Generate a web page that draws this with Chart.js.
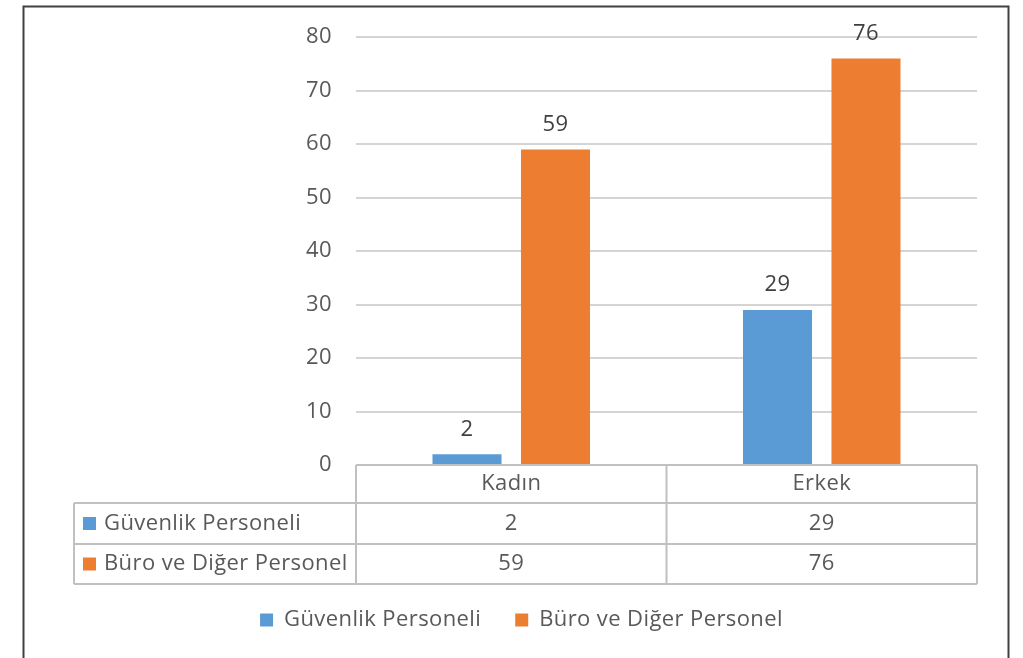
<!DOCTYPE html>
<html>
<head>
<meta charset="utf-8">
<script src="https://cdn.jsdelivr.net/npm/chart.js@4.4.0/dist/chart.umd.min.js"></script>
<style>
  html, body { margin: 0; padding: 0; background: #ffffff; }
  #wrap { width: 1023px; height: 658px; position: relative; }
</style>
</head>
<body>
<div id="wrap"><canvas id="c" width="1023" height="658"></canvas></div>
<script>
const categories = ['Kadın', 'Erkek'];
const seriesNames = ['Güvenlik Personeli', 'Büro ve Diğer Personel'];
const guvenlik = [2, 29];
const buro = [59, 76];
const yTicks = [0, 10, 20, 30, 40, 50, 60, 70, 80];
const seriesColors = ['#5B9BD5', '#ED7D31'];

const FONT = "'Open Sans', 'Noto Sans', sans-serif";
const TEXT = '#595959';

const tablePlugin = {
  id: 'tablePlugin',
  beforeDraw(chart) {
    const ctx = chart.ctx;
    try { ctx.letterSpacing = '0.4px'; } catch (e) {}
    ctx.save();
    ctx.strokeStyle = '#404040';
    ctx.lineWidth = 2;
    ctx.beginPath();
    ctx.moveTo(23.5, 658); ctx.lineTo(23.5, 6.5); ctx.lineTo(1008.5, 6.5); ctx.lineTo(1008.5, 658);
    ctx.stroke();
    ctx.restore();
  },
  afterDatasetsDraw(chart) {
    const ctx = chart.ctx;
    const xs = chart.scales.x;
    const area = chart.chartArea;
    // data labels
    ctx.save();
    ctx.font = '22px ' + FONT;
    ctx.fillStyle = '#404040';
    ctx.textAlign = 'center';
    ctx.textBaseline = 'middle';
    chart.data.datasets.forEach((ds, di) => {
      const meta = chart.getDatasetMeta(di);
      meta.data.forEach((el, i) => {
        ctx.fillText(String(ds.data[i]), el.x, el.y - 25);
      });
    });
    ctx.restore();

    // data table
    const top = area.bottom;
    const rows = [top, top + 38, top + 79, top + 119];
    const tableLeft = 74;
    const colEdges = [area.left];
    for (let i = 0; i < categories.length - 1; i++) {
      colEdges.push((xs.getPixelForValue(i) + xs.getPixelForValue(i + 1)) / 2);
    }
    colEdges.push(area.right);

    ctx.save();
    ctx.strokeStyle = '#c0c0c0';
    ctx.lineWidth = 2;
    ctx.beginPath();
    ctx.moveTo(area.left, rows[0]); ctx.lineTo(area.right, rows[0]);
    for (let r = 1; r < rows.length; r++) {
      ctx.moveTo(tableLeft, rows[r]); ctx.lineTo(area.right, rows[r]);
    }
    ctx.moveTo(tableLeft, rows[1]); ctx.lineTo(tableLeft, rows[3]);
    colEdges.forEach(x => { ctx.moveTo(x, rows[0]); ctx.lineTo(x, rows[3]); });
    ctx.stroke();

    ctx.font = '22px ' + FONT;
    ctx.fillStyle = TEXT;
    ctx.textBaseline = 'middle';
    ctx.textAlign = 'center';
    categories.forEach((c, i) => {
      const cx = xs.getPixelForValue(i);
      ctx.fillText(c, cx, (rows[0] + rows[1]) / 2);
      chart.data.datasets.forEach((ds, di) => {
        ctx.fillText(String(ds.data[i]), cx, (rows[di + 1] + rows[di + 2]) / 2);
      });
    });
    ctx.textAlign = 'left';
    chart.data.datasets.forEach((ds, di) => {
      const cy = (rows[di + 1] + rows[di + 2]) / 2;
      ctx.fillStyle = ds.backgroundColor;
      ctx.fillRect(83, cy - 6.5, 13, 13);
      ctx.fillStyle = TEXT;
      ctx.fillText(ds.label, 104, cy);
    });
    ctx.restore();
  }
};

new Chart(document.getElementById('c'), {
  type: 'bar',
  data: {
    labels: categories,
    datasets: [
      { label: seriesNames[0], data: guvenlik, backgroundColor: seriesColors[0] },
      { label: seriesNames[1], data: buro, backgroundColor: seriesColors[1] }
    ]
  },
  options: {
    responsive: false,
    animation: false,
    events: [],
    categoryPercentage: 0.57,
    barPercentage: 0.78,
    layout: { padding: { left: 50, right: 46, top: 36, bottom: 17 } },
    scales: {
      x: {
        grid: { display: false },
        border: { display: false },
        ticks: { display: false },
        afterFit(scale) { scale.height = 110; }
      },
      y: {
        min: 0, max: 80,
        afterBuildTicks(scale) { scale.ticks = yTicks.map(v => ({ value: v })); },
        grid: { color: '#d4d4d4', lineWidth: 2, drawTicks: false },
        border: { display: false },
        ticks: { color: TEXT, font: { family: FONT, size: 22 }, padding: 24 },
        afterFit(scale) { scale.width = 306; }
      }
    },
    plugins: {
      tooltip: { enabled: false },
      legend: {
        position: 'bottom',
        labels: {
          color: TEXT,
          font: { family: FONT, size: 22 },
          boxWidth: 13,
          boxHeight: 13,
          padding: 34
        }
      }
    }
  },
  plugins: [tablePlugin]
});
</script>
</body>
</html>
